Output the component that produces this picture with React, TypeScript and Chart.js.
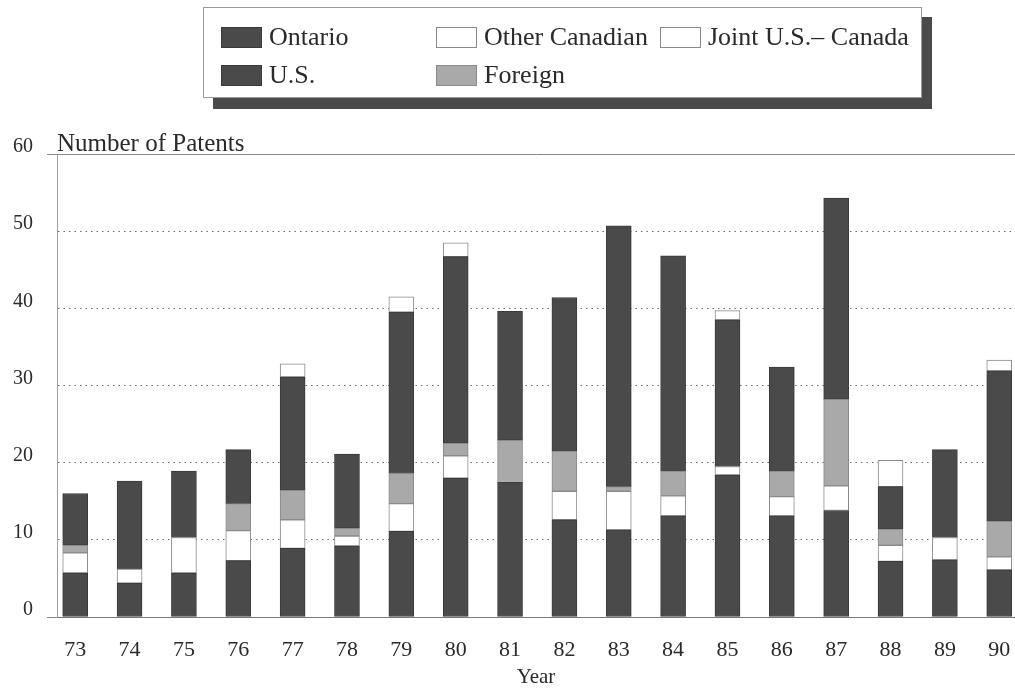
import React, { useEffect, useRef } from "react";
import { Chart, registerables } from "chart.js";

Chart.register(...registerables);

const years = [73, 74, 75, 76, 77, 78, 79, 80, 81, 82, 83, 84, 85, 86, 87, 88, 89, 90];
const ontario = [5.7, 4.4, 5.7, 7.3, 8.9, 9.2, 11.1, 18.0, 17.5, 12.6, 11.3, 13.1, 18.4, 13.1, 13.8, 7.2, 7.4, 6.1];
const otherCanadian = [2.6, 1.8, 4.6, 3.9, 3.7, 1.3, 3.6, 2.9, 0, 3.7, 5.0, 2.6, 1.1, 2.5, 3.2, 2.1, 2.9, 1.7];
const foreign = [1.0, 0, 0, 3.5, 3.8, 1.0, 3.9, 1.6, 5.4, 5.2, 0.6, 3.2, 0, 3.3, 11.2, 2.1, 0, 4.6];
const us = [6.7, 11.4, 8.6, 7.0, 14.7, 9.6, 20.9, 24.2, 16.7, 19.9, 33.8, 27.9, 19.0, 13.5, 26.1, 5.5, 11.4, 19.5];
const joint = [0, 0, 0, 0, 1.7, 0, 2.0, 1.8, 0, 0, 0, 0, 1.2, 0, 0, 3.4, 0, 1.4];
const yTicks = [0, 10, 20, 30, 40, 50, 60];

const FONT = "'Liberation Serif', 'Times New Roman', serif";
const DARK = "#4a4a4a";
const GRAY = "#a9a9a9";
const WHITE = "#ffffff";

const legendPlugin = {
  id: "boxLegend",
  afterDraw(chart: any) {
    const ctx = chart.ctx;
    ctx.save();
    ctx.fillStyle = "#4a4a4a";
    ctx.fillRect(213, 17, 719, 92);
    ctx.fillStyle = "#ffffff";
    ctx.fillRect(203, 7, 719, 91);
    ctx.strokeStyle = "#9a9a9a";
    ctx.lineWidth = 1;
    ctx.strokeRect(203.5, 7.5, 718, 90);
    const ds = chart.data.datasets;
    const slots: Record<string, [number, number]> = {
      Ontario: [221, 27],
      "U.S.": [221, 65],
      "Other Canadian": [436, 27],
      Foreign: [436, 65],
      "Joint U.S.\u2013 Canada": [660, 27],
    };
    ctx.font = `26px ${FONT}`;
    ctx.textBaseline = "middle";
    ctx.textAlign = "left";
    ds.forEach((d: any) => {
      const s = slots[d.label];
      if (!s) return;
      const [x, y] = s;
      ctx.fillStyle = d.backgroundColor;
      ctx.fillRect(x, y, 41, 21);
      ctx.strokeStyle = d.legendBorder;
      ctx.strokeRect(x + 0.5, y + 0.5, 40, 20);
      ctx.fillStyle = "#2a2a2a";
      ctx.fillText(d.label, x + 48, y + 11);
    });
    ctx.font = `25px ${FONT}`;
    ctx.textBaseline = "alphabetic";
    ctx.fillStyle = "#2a2a2a";
    ctx.fillText("Number of Patents", chart.chartArea.left, chart.chartArea.top - 3);
    ctx.restore();
  },
};

function build(values: number[]) {
  return years.map((yr, i) => ({ x: yr, y: values[i] }));
}

export default function App() {
  const ref = useRef<HTMLCanvasElement | null>(null);
  useEffect(() => {
    if (!ref.current) return;
    Chart.defaults.font.family = FONT;
    const mk = (label: string, values: number[], bg: string, border: string) => ({
      label,
      data: build(values),
      backgroundColor: bg,
      borderColor: border,
      legendBorder: border,
      borderWidth: (c: any) => (c.raw && c.raw.y > 0 ? 1 : 0),
      borderSkipped: false,
      barThickness: 25,
    });
    const chart = new Chart(ref.current, {
      type: "bar",
      data: {
        datasets: [
          mk("Ontario", ontario, DARK, "#3a3a3a"),
          mk("Other Canadian", otherCanadian, WHITE, "#8a8a8a"),
          mk("Foreign", foreign, GRAY, "#8a8a8a"),
          mk("U.S.", us, DARK, "#3a3a3a"),
          mk("Joint U.S.\u2013 Canada", joint, WHITE, "#8a8a8a"),
        ] as any,
      },
      options: {
        animation: false,
        responsive: true,
        maintainAspectRatio: false,
        layout: { padding: { top: 154, right: 0, left: 0, bottom: 0 } },
        plugins: { legend: { display: false }, tooltip: { enabled: false }, title: { display: false } },
        scales: {
          x: {
            type: "linear",
            stacked: true,
            offset: false,
            min: 72.665,
            max: 90.29,
            afterFit: (s: any) => {
              s.height = 73;
              s.paddingLeft = 0;
              s.paddingRight = 0;
            },
            afterBuildTicks: (s: any) => {
              s.ticks = years.map((v) => ({ value: v }));
            },
            ticks: {
              autoSkip: false,
              maxRotation: 0,
              padding: 20,
              color: "#2a2a2a",
              font: { size: 22, family: FONT },
              callback: (v: any) => String(v),
            },
            grid: { display: false, drawTicks: false },
            border: { display: true, color: "#7a7a7a", width: 1 },
            title: {
              display: true,
              text: "Year",
              color: "#2a2a2a",
              font: { size: 21, family: FONT },
              padding: { top: 0, bottom: 0 },
            },
          },
          y: {
            stacked: true,
            min: 0,
            max: 60,
            afterFit: (s: any) => {
              s.width = 57;
            },
            afterBuildTicks: (s: any) => {
              s.ticks = yTicks.map((v) => ({ value: v }));
            },
            ticks: {
              padding: 14,
              labelOffset: -7,
              color: "#2a2a2a",
              font: { size: 20, family: FONT },
            },
            grid: {
              color: (c: any) => (c.tick && (c.tick.value === 0 || c.tick.value === 60) ? "#8a8a8a" : "#6a6a6a"),
              lineWidth: 1,
              drawTicks: true,
              tickLength: 10,
              tickColor: (c: any) => (c.tick && (c.tick.value === 0 || c.tick.value === 60) ? "#8a8a8a" : "rgba(0,0,0,0)"),
            },
            border: {
              display: true,
              color: "#a0a0a0",
              width: 1,
              dash: (c: any) => (c.tick && c.tick.value > 0 && c.tick.value < 60 ? [1.5, 4] : []),
            },
          },
        },
      } as any,
      plugins: [legendPlugin],
    });
    return () => chart.destroy();
  }, []);
  return (
    <div style={{ position: "absolute", left: 0, top: 0, width: 1015, height: 690, background: "#fff" }}>
      <canvas ref={ref} />
    </div>
  );
}
